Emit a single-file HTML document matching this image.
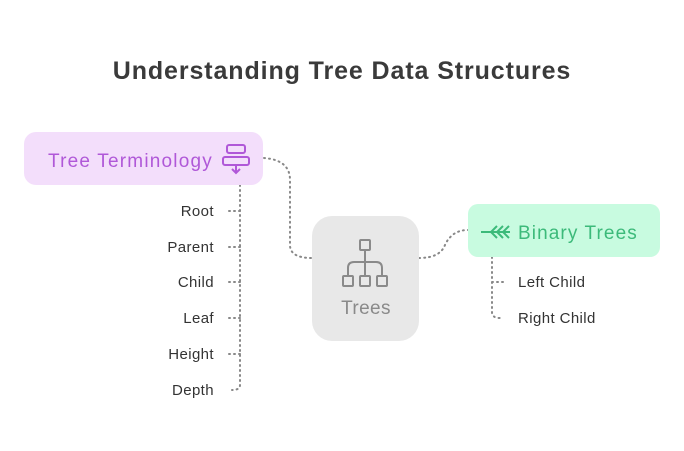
<!DOCTYPE html>
<html><head><meta charset="utf-8"><style>
html,body{margin:0;padding:0;background:#fff;width:684px;height:451px;overflow:hidden}
svg text{font-family:"Liberation Sans",sans-serif}
</style></head><body>
<svg width="684" height="451" viewBox="0 0 684 451" xmlns="http://www.w3.org/2000/svg">
<text x="342" y="79" text-anchor="middle" font-size="25" font-weight="bold" letter-spacing="0.9" fill="#3a3a3a">Understanding Tree Data Structures</text>
<g fill="none" stroke="#888" stroke-width="2" stroke-dasharray="1 4" stroke-linecap="round">
<path d="M264 158 Q290 160 290 180 L290 245 Q290 258 312 258"/>
<path d="M419 258 Q440 258 445 245 Q452 230 468 230"/>
<path d="M240 185 L240 385 Q240 390 232 390"/>
<path d="M229 211 H240 M229 247 H240 M229 282 H240 M229 318 H240 M229 354 H240"/>
<path d="M492 257 L492 312 Q492 318 500 318 M492 282 H504"/>
</g>
<rect x="24" y="132" width="239" height="53" rx="12" fill="#f3defb"/>
<text x="48" y="167" font-size="19" letter-spacing="1.2" fill="#b058d8">Tree Terminology</text>
<g fill="none" stroke="#b058d8" stroke-width="2">
<rect x="227" y="145" width="18" height="8" rx="2"/><rect x="223" y="157" width="26" height="8" rx="2"/>
<path d="M236 165 V172 M232 169 L236 173 L240 169"/>
</g>
<rect x="312" y="216" width="107" height="125" rx="20" fill="#e8e8e8"/>
<g fill="none" stroke="#8a8a8a" stroke-width="2">
<rect x="360" y="240" width="10" height="10" rx="1"/>
<path d="M365 250 V276 M348 276 V268 Q348 262 354 262 H376 Q382 262 382 268 V276"/>
<rect x="343" y="276" width="10" height="10" rx="1"/><rect x="360" y="276" width="10" height="10" rx="1"/><rect x="377" y="276" width="10" height="10" rx="1"/>
</g>
<text x="366" y="314" text-anchor="middle" font-size="19" letter-spacing="0.4" fill="#8a8a8a">Trees</text>
<rect x="468" y="204" width="192" height="53" rx="10" fill="#c8fbe0"/>
<g fill="none" stroke="#3cba7a" stroke-width="2">
<path d="M481 232 H510 M497 226 L491 232 L497 238 M503 226 L497 232 L503 238 M509 226 L503 232 L509 238"/>
</g>
<text x="518" y="239" font-size="19" letter-spacing="1.1" fill="#3cba7a">Binary Trees</text>
<g font-size="15" fill="#333" text-anchor="end" letter-spacing="0.4">
<text x="214" y="216">Root</text><text x="214" y="252">Parent</text><text x="214" y="287">Child</text>
<text x="214" y="323">Leaf</text><text x="214" y="359">Height</text><text x="214" y="395">Depth</text>
</g>
<g font-size="15" fill="#333" letter-spacing="0.4">
<text x="518" y="287">Left Child</text><text x="518" y="323">Right Child</text>
</g>
</svg>
</body></html>
